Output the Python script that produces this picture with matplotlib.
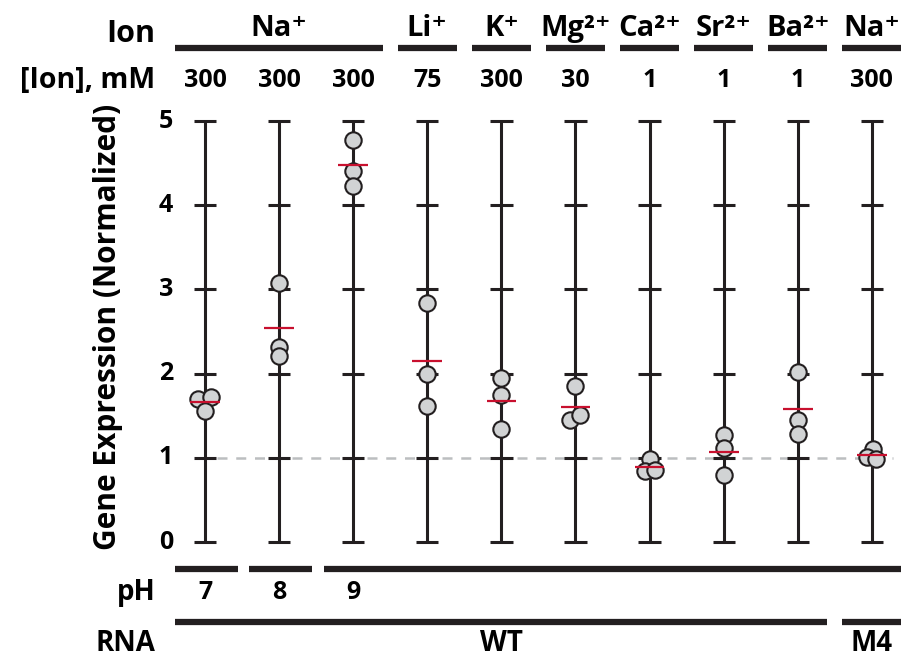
import matplotlib.pyplot as plt
import numpy as np

# values
ions = ["Na⁺", "Li⁺", "K⁺", "Mg²⁺", "Ca²⁺", "Sr²⁺", "Ba²⁺", "Na⁺"]
ion_spans = [(0, 2), (3, 3), (4, 4), (5, 5), (6, 6), (7, 7), (8, 8), (9, 9)]
conc = ["300", "300", "300", "75", "300", "30", "1", "1", "1", "300"]
ph_labels = ["7", "8", "9"]
ph_spans = [(0, 0), (1, 1), (2, 9)]
rna_labels = ["WT", "M4"]
rna_spans = [(0, 8), (9, 9)]

expr = [
    [1.70, 1.72, 1.56],
    [3.08, 2.32, 2.21],
    [4.78, 4.41, 4.23],
    [2.84, 1.99, 1.62],
    [1.95, 1.75, 1.34],
    [1.85, 1.45, 1.51],
    [0.99, 0.84, 0.85],
    [1.27, 1.12, 0.80],
    [2.02, 1.45, 1.28],
    [1.11, 1.01, 0.99],
]
# small horizontal jitter of overlapping points (column units)
jitter = [
    [-0.09, 0.08, 0.0],
    [0, 0, 0],
    [0, 0, 0],
    [0, 0, 0],
    [0, 0, 0],
    [0.0, -0.07, 0.055],
    [0.0, -0.06, 0.07],
    [0, 0, 0],
    [0, 0, 0],
    [0.01, -0.06, 0.05],
]

plt.rcParams['font.family'] = ['Open Sans', 'DejaVu Sans']
plt.rcParams['font.weight'] = 'bold'
dark = '#231f20'

fig = plt.figure(figsize=(9.01, 6.61), dpi=100)
ax = fig.add_axes([0, 0, 1, 1])
ax.set_xlim(-2.767, 9.393)
ax.set_ylim(-1.413, 6.437)
ax.axis('off')

n = len(expr)
cols = np.arange(n)

# reference line at 1
ax.hlines(1, 0.16, 9.28, color='#bcbec0', lw=1.8, linestyles=(0, (4, 3.5)), zorder=1)

# per-column axes with ticks
ax.vlines(cols, 0, 5, color=dark, lw=2.2, zorder=2)
for c in cols:
    ax.hlines(np.arange(6), c - 0.15, c + 0.15, color=dark, lw=2.2, zorder=2)

# points and means
for c in cols:
    vals = np.array(expr[c])
    ax.plot(c + np.array(jitter[c]), vals, 'o', ms=11.8, mfc='#d1d3d4',
            mec=dark, mew=1.5, zorder=3)
    ax.hlines(vals.mean(), c - 0.2, c + 0.2, color='#c8102e', lw=1.6, zorder=4)

# y tick labels
for v in range(6):
    ax.text(-0.43, v, str(v), ha='right', va='center', fontsize=18)
ax.text(-1.31, 2.55, "Gene Expression (Normalized)", rotation=90,
        ha='center', va='center', fontsize=21.5)

# top annotations
left_x = -0.67
ax.text(left_x, 6.03, "Ion", ha='right', va='center', fontsize=22)
ax.text(left_x, 5.48, "[Ion], mM", ha='right', va='center', fontsize=20.5)
for lab, (a, b) in zip(ions, ion_spans):
    ax.plot([a - 0.4, b + 0.4], [5.87, 5.87], color=dark, lw=4.5, solid_capstyle='butt')
    ax.text((a + b) / 2, 6.1, lab, ha='center', va='center', fontsize=21)
for c, lab in zip(cols, conc):
    ax.text(c, 5.48, lab, ha='center', va='center', fontsize=18)

# bottom annotations
for lab, (a, b) in zip(ph_labels, ph_spans):
    ax.plot([a - 0.4, b + 0.45], [-0.32, -0.32], color=dark, lw=4.5, solid_capstyle='butt')
    ax.text(a, -0.6, lab, ha='center', va='center', fontsize=18)
ax.text(left_x, -0.6, "pH", ha='right', va='center', fontsize=20)

for lab, (a, b) in zip(rna_labels, rna_spans):
    ax.plot([a - 0.4, b + 0.4], [-0.95, -0.95], color=dark, lw=4.5, solid_capstyle='butt')
    ax.text((a + b) / 2, -1.2, lab, ha='center', va='center', fontsize=20)
ax.text(left_x, -1.2, "RNA", ha='right', va='center', fontsize=20)

fig.savefig("out.png", dpi=100)
